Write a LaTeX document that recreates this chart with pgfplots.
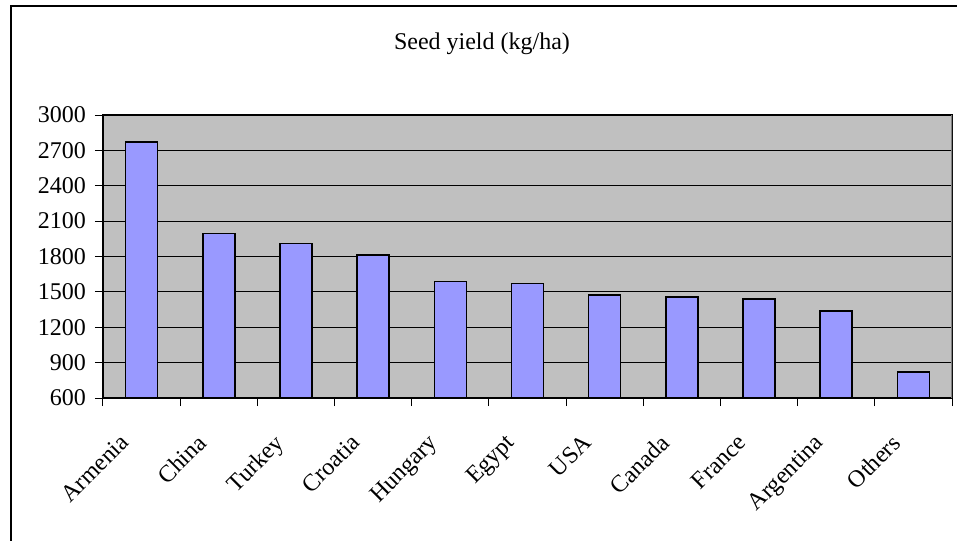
\documentclass[border=0pt]{standalone}
\usepackage{fontspec}
\setmainfont{Liberation Serif}
\usepackage{pgfplots}
\pgfplotsset{compat=1.18}
\definecolor{plotgray}{HTML}{C0C0C0}
\definecolor{barblue}{HTML}{9999FF}
\definecolor{edgegray}{HTML}{808080}
\begin{document}
\begin{tikzpicture}[x=1pt,y=1pt]
\useasboundingbox (-51.5,-71) rectangle (427,199);
\draw[line width=1pt] (-46,-90) -- (-46,196) -- (450,196);
\node[font=\fontsize{12}{14}\selectfont] at (189.5,177) {Seed yield (kg/ha)};
\begin{axis}[
  at={(0,0)}, anchor=south west, scale only axis,
  width=424.5pt, height=141.5pt,
  xmin=-0.5, xmax=10.5, ymin=600, ymax=3000,
  ytick={600,900,...,3000},
  xtick={0,...,10},
  xticklabels={Armenia,China,Turkey,Croatia,Hungary,Egypt,USA,Canada,France,Argentina,Others},
  minor xtick={-0.5,0.5,...,10.5},
  major x tick style={draw=none},
  tick align=outside, tick pos=left,
  major tick length=4pt, minor tick length=4pt,
  tick style={black, line width=0.5pt},
  ymajorgrids, grid style={black, line width=0.5pt},
  axis background/.style={fill=plotgray},
  axis line style={black, line width=0.6pt},
  /pgf/number format/1000 sep={},
  /pgf/number format/assume math mode=true,
  ticklabel style={font=\fontsize{12}{14}\selectfont},
  yticklabel style={xshift=-1pt},
  xticklabel style={xshift=-11.5pt, yshift=-8.5pt, rotate=45, anchor=north east},
]
\addplot[ybar, bar width=16pt, fill=barblue, draw=black, line width=0.8pt]
  coordinates {(0,2770) (1,1995) (2,1910) (3,1812) (4,1588) (5,1572) (6,1472) (7,1455) (8,1440) (9,1338) (10,818)};
\draw[edgegray, line width=0.8pt] (axis cs:10.5,600) -- (axis cs:10.5,3000);
\end{axis}
\end{tikzpicture}
\end{document}
